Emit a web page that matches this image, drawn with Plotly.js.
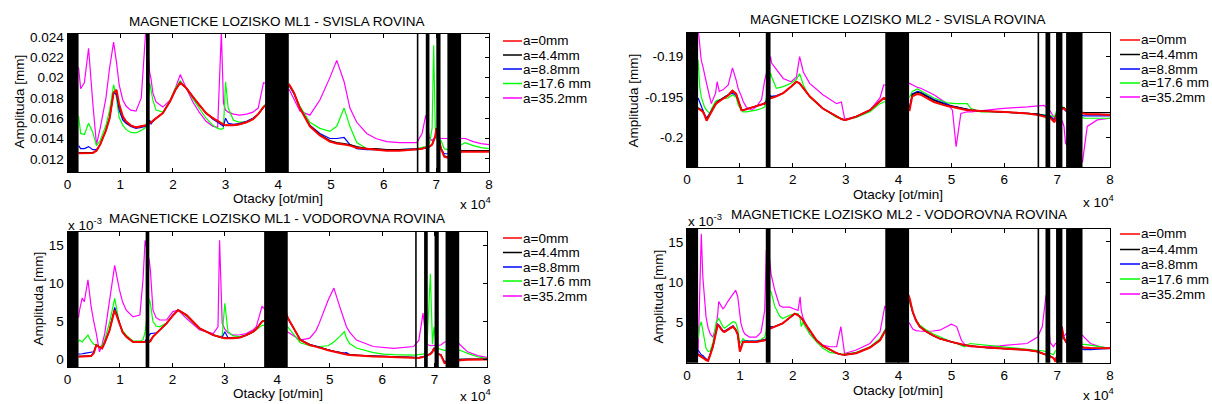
<!DOCTYPE html>
<html><head><meta charset="utf-8">
<script src="https://cdn.plot.ly/plotly-3.0.1.min.js"></script>
<style>html,body{margin:0;padding:0;background:#fff}#chart{width:1212px;height:404px}</style>
</head><body><div id="chart"></div>
<script>
// ===== DATA =====
const LEGEND_LABELS = ['a=0mm','a=4.4mm','a=8.8mm','a=17.6 mm','a=35.2mm'];
const X_TICKS = [0,1,2,3,4,5,6,7,8];
const X_TICKTEXT = ['0','1','2','3','4','5','6','7','8'];
const TITLES = ['MAGNETICKE LOZISKO ML1 - SVISLA ROVINA','MAGNETICKE LOZISKO ML1 - VODOROVNA ROVINA',
                'MAGNETICKE LOZISKO ML2 - SVISLA ROVINA','MAGNETICKE LOZISKO ML2 - VODOROVNA ROVINA'];
const X_LABEL = 'Otacky [ot/min]';
const Y_LABEL = 'Amplituda [mm]';
// excluded speed bands (x 10^4 ot/min)
const BANDS_LEFT_START  = [0, 1.49, 3.75, 6.63, 6.80, 7.00, 7.21];
const BANDS_LEFT_END    = [0.21, 1.56, 4.20, 6.66, 6.87, 7.08, 7.47];
const BANDS_RIGHT_START = [0, 1.49, 3.75, 6.63, 6.78, 6.98, 7.17];
const BANDS_RIGHT_END   = [0.21, 1.58, 4.20, 6.66, 6.87, 7.10, 7.48];

// --- ML1 svisla (mm), x in 10^4 ot/min ---
const TL_X = [0.21,0.25,0.32,0.40,0.48,0.55,0.62,0.73,0.80,0.875,0.93,0.98,1.05,1.11,1.20,1.30,1.40,1.46,1.49,
 1.56,1.585,1.62,1.68,1.81,1.95,2.05,2.14,2.25,2.38,2.5,2.63,2.76,2.85,2.92,2.96,3.0,3.05,3.15,3.27,3.4,3.52,3.62,3.72,
 4.21,4.3,4.41,4.6,4.79,4.98,5.11,5.25,5.36,5.49,5.68,5.85,6.06,6.3,6.63,
 6.73,6.8,6.87,6.92,6.95,6.98,7.0,7.09,7.15,7.21,7.48,7.55,7.7,7.85,8.0];
const TL_RED = [0.01255,0.01255,0.01255,0.01255,0.01258,0.0128,0.0134,0.0148,0.0160,0.0185,0.0188,0.0174,0.0162,0.0157,0.0153,0.0151,0.0152,0.0152,0.0153,
 0.0155,0.0156,0.0157,0.0160,0.0165,0.0177,0.0188,0.0195,0.0190,0.0181,0.0173,0.0165,0.0160,0.0157,0.0155,0.0154,0.0153,0.0153,0.0153,0.0154,0.0156,0.0159,0.0164,0.0171,
 0.0193,0.0185,0.0170,0.0152,0.0143,0.0137,0.0135,0.0134,0.0133,0.0131,0.0130,0.0129,0.0128,0.0128,0.0129,
 0.0130,0.0131,0.0132,0.0134,0.0138,0.0142,0.0150,0.0130,0.0122,0.0121,0.0127,0.0127,0.0127,0.0127,0.0127];
const TL_BLACK = [0.0126,0.0126,0.01258,0.0126,0.0126,0.0128,0.0134,0.0148,0.0160,0.0185,0.0187,0.0172,0.0161,0.0156,0.0153,0.0151,0.0152,0.0152,0.0153,
 0.0156,0.0156,0.0157,0.0160,0.0165,0.0177,0.0188,0.0195,0.0190,0.0181,0.0173,0.0165,0.0160,0.0157,0.0155,0.0154,0.0153,0.0153,0.0153,0.0154,0.0156,0.0159,0.0164,0.0171,
 0.0193,0.0185,0.0170,0.0153,0.0144,0.0138,0.0136,0.0135,0.0134,0.0132,0.0130,0.0130,0.0129,0.0129,0.0129,
 0.0130,0.0131,0.0132,0.0134,0.0138,0.0142,0.0150,0.0130,0.0123,0.0122,0.0128,0.0128,0.0128,0.0128,0.0128];
const TL_BLUE = [0.0133,0.0130,0.0130,0.0132,0.0129,0.0129,0.0134,0.0148,0.0161,0.0186,0.0183,0.0168,0.0158,0.0155,0.0152,0.0150,0.0151,0.0152,0.0152,
 0.0158,0.0154,0.0157,0.0160,0.0165,0.0177,0.0188,0.0195,0.0190,0.0181,0.0173,0.0165,0.0159,0.0156,0.0153,0.0152,0.0160,0.0155,0.0154,0.0155,0.0157,0.0160,0.0164,0.0171,
 0.0192,0.0184,0.0170,0.0153,0.0145,0.0140,0.0140,0.0141,0.0134,0.0130,0.0129,0.0129,0.0129,0.0129,0.0130,
 0.0130,0.0131,0.0132,0.0134,0.0138,0.0142,0.0150,0.0130,0.0125,0.0125,0.0128,0.0128,0.0128,0.0128,0.0128];
const TL_GREEN = [0.0162,0.0145,0.0144,0.0155,0.0146,0.0133,0.0138,0.0153,0.0168,0.0193,0.0180,0.0161,0.0153,0.0149,0.0146,0.01455,0.0148,0.0150,0.0151,
 0.0195,0.0188,0.0178,0.0168,0.0166,0.0178,0.0190,0.0197,0.0190,0.0179,0.0170,0.0160,0.0153,0.0150,0.0149,0.0150,0.0196,0.0170,0.0158,0.0156,0.0157,0.0160,0.0164,0.0172,
 0.0192,0.0184,0.0172,0.0156,0.0150,0.0147,0.0152,0.0170,0.0152,0.0136,0.0130,0.0129,0.0129,0.0129,0.0130,
 0.0131,0.0132,0.0135,0.0150,0.0232,0.0150,0.0140,0.0138,0.0130,0.0129,0.0134,0.0136,0.0133,0.0131,0.0130];
const TL_MAGENTA = [0.0210,0.0189,0.0195,0.0229,0.0175,0.0134,0.0150,0.0180,0.0210,0.0235,0.0215,0.0193,0.0178,0.0172,0.0168,0.0167,0.0180,0.0220,0.0250,
 0.0205,0.0199,0.0185,0.0176,0.0171,0.0178,0.0190,0.0203,0.0190,0.0176,0.0166,0.0157,0.0152,0.0151,0.0245,0.0175,0.0168,0.0166,0.0164,0.0163,0.0164,0.0166,0.0170,0.0195,
 0.0188,0.0178,0.0167,0.0163,0.0178,0.0200,0.0217,0.0196,0.0170,0.0156,0.0145,0.0140,0.0137,0.0136,0.0136,
 0.0145,0.0163,0.0140,0.0138,0.0140,0.0142,0.0142,0.0140,0.0140,0.0140,0.0140,0.0140,0.0137,0.0135,0.0134];

// --- ML1 vodorovna (x 10^-3 mm) ---
const BL_X = [0.21,0.23,0.28,0.32,0.39,0.45,0.50,0.55,0.61,0.66,0.71,0.80,0.90,0.99,1.05,1.12,1.25,1.38,1.44,1.48,
 1.56,1.58,1.63,1.69,1.76,1.89,2.01,2.11,2.27,2.52,2.78,2.87,2.90,2.95,3.0,3.06,3.16,3.29,3.41,3.54,3.6,3.71,
 4.17,4.2,4.44,4.62,4.74,4.8,4.97,5.08,5.19,5.28,5.32,5.38,5.51,5.83,6.03,6.22,6.6,
 6.7,6.78,6.85,6.92,6.96,6.99,7.04,7.12,7.19,7.42,7.49,7.63,7.82,8.0];
const BL_RED = [0.35,0.35,0.38,0.4,0.42,0.44,0.8,1.9,1.6,1.45,2.2,3.8,6.5,4.75,3.6,3.0,2.3,2.3,2.3,2.35,
 2.3,2.4,3.0,3.4,3.9,4.75,5.8,6.5,5.85,4.1,3.2,3.0,2.95,2.85,2.8,2.8,2.8,2.9,3.2,3.65,4.0,5.0,
 6.1,5.5,2.55,1.9,1.7,1.55,1.2,1.0,0.8,0.7,0.65,0.57,0.5,0.4,0.35,0.3,0.15,
 0.2,0.3,0.5,0.7,1.0,1.5,0.8,0.57,-0.5,-0.2,-0.1,-0.05,0.0,0.0];
const BL_BLACK = [0.4,0.4,0.42,0.45,0.48,0.5,0.85,1.9,1.6,1.45,2.2,3.8,6.6,4.8,3.6,3.0,2.3,2.3,2.3,2.35,
 2.4,2.5,3.0,3.4,3.9,4.75,5.8,6.5,5.85,4.1,3.2,3.0,2.95,2.85,2.85,2.8,2.8,2.9,3.2,3.65,4.0,5.0,
 6.1,5.5,2.6,1.95,1.75,1.6,1.25,1.05,0.85,0.75,0.7,0.62,0.55,0.45,0.4,0.35,0.2,
 0.25,0.35,0.55,0.75,1.05,1.5,0.8,0.6,-0.4,-0.1,0.0,0.05,0.05,0.05];
const BL_BLUE = [0.7,0.7,0.75,0.8,0.88,0.95,1.0,1.9,1.6,1.45,2.2,3.8,6.85,4.9,3.6,3.0,2.3,2.3,2.3,2.4,
 3.3,3.4,3.45,3.5,3.9,4.75,5.8,6.5,5.85,4.1,3.2,3.0,2.95,2.9,3.65,2.9,2.8,2.9,3.2,3.65,4.0,5.0,
 6.0,5.4,2.6,1.95,1.75,1.6,1.25,1.05,0.9,0.85,0.88,0.65,0.55,0.45,0.4,0.35,0.2,
 0.25,0.35,0.55,0.75,1.05,1.5,0.8,0.6,-0.3,0.0,0.0,0.0,0.0,0.0];
const BL_GREEN = [2.3,2.55,2.3,2.6,3.2,2.4,2.0,1.9,1.7,1.8,2.6,4.8,8.05,4.75,3.8,3.2,2.4,2.4,2.6,3.6,
 8.0,7.4,5.0,4.4,4.3,4.8,5.85,6.5,5.7,4.0,3.2,3.0,3.0,3.1,7.4,3.65,3.1,3.0,3.2,3.6,3.9,4.5,
 4.5,4.3,2.2,1.8,1.7,1.7,1.8,2.3,3.0,3.65,2.8,2.1,1.5,0.9,0.7,0.62,0.57,
 0.6,0.7,0.9,11.3,2.0,4.3,1.5,1.3,1.2,1.3,1.2,0.8,0.35,0.1];
const BL_MAGENTA = [5.5,6.5,8.1,7.6,10.5,7.0,5.0,3.4,1.0,2.0,3.4,7.8,12.4,9.2,7.6,6.5,5.6,5.85,10.5,15.7,
 13.0,11.8,6.5,5.5,5.2,5.2,6.3,6.5,5.4,3.9,3.4,4.3,15.7,4.75,4.0,3.5,3.2,3.25,3.4,3.9,4.3,7.0,
 3.8,3.6,2.55,2.8,3.8,4.75,7.8,9.4,7.0,5.0,4.3,3.6,2.55,1.7,1.55,1.45,1.7,
 2.5,6.1,2.0,1.8,1.8,1.8,1.8,1.9,2.3,2.4,1.9,1.0,0.5,0.26];

// --- ML2 svisla (mm) ---
const TR_X = [0.21,0.24,0.27,0.30,0.33,0.37,0.43,0.46,0.54,0.57,0.61,0.68,0.78,0.86,0.93,0.97,1.03,1.06,1.12,1.22,1.31,1.41,1.47,
 1.58,1.6,1.69,1.82,1.97,2.07,2.13,2.2,2.32,2.57,2.83,2.92,2.98,3.0,3.2,3.46,3.65,3.72,
 4.21,4.26,4.36,4.42,4.67,4.92,5.02,5.09,5.18,5.3,5.37,5.55,5.93,6.44,6.64,
 6.75,6.81,6.88,6.95,7.0,7.1,7.13,7.16,7.48,7.51,7.57,7.76,8.0];
const TR_RED = [-0.1964,-0.1965,-0.1966,-0.1968,-0.1972,-0.1979,-0.1972,-0.1968,-0.1959,-0.1957,-0.1955,-0.1952,-0.1948,-0.1942,-0.1946,-0.1953,-0.1966,-0.1966,-0.1965,-0.1963,-0.1961,-0.1959,-0.1958,
 -0.1951,-0.1951,-0.1949,-0.1945,-0.1937,-0.1931,-0.1933,-0.1939,-0.1949,-0.1964,-0.1974,-0.1977,-0.1978,-0.1978,-0.1974,-0.1966,-0.1955,-0.1951,
 -0.1966,-0.1949,-0.1946,-0.1947,-0.1956,-0.1961,-0.1962,-0.1963,-0.1964,-0.1966,-0.1966,-0.1967,-0.1968,-0.1970,-0.1972,
 -0.1974,-0.1975,-0.1976,-0.1981,-0.1970,-0.1964,-0.1964,-0.1966,-0.1970,-0.1970,-0.1971,-0.1971,-0.1972];
const TR_BLACK = [-0.1963,-0.1964,-0.1965,-0.1967,-0.1971,-0.1977,-0.1971,-0.1967,-0.1958,-0.1956,-0.1954,-0.1951,-0.1947,-0.1942,-0.1946,-0.1953,-0.1965,-0.1966,-0.1965,-0.1963,-0.1961,-0.1959,-0.1958,
 -0.1950,-0.1950,-0.1949,-0.1945,-0.1937,-0.1931,-0.1933,-0.1939,-0.1949,-0.1964,-0.1974,-0.1977,-0.1978,-0.1978,-0.1974,-0.1966,-0.1955,-0.1951,
 -0.1964,-0.1947,-0.1944,-0.1945,-0.1954,-0.1960,-0.1961,-0.1962,-0.1963,-0.1965,-0.1966,-0.1967,-0.1968,-0.1970,-0.1971,
 -0.1973,-0.1974,-0.1975,-0.1980,-0.1969,-0.1963,-0.1963,-0.1965,-0.1969,-0.1969,-0.1969,-0.1969,-0.1969];
const TR_BLUE = [-0.1951,-0.1956,-0.1962,-0.1966,-0.1971,-0.1976,-0.1970,-0.1966,-0.1958,-0.1956,-0.1954,-0.1951,-0.1947,-0.1945,-0.1948,-0.1955,-0.1966,-0.1966,-0.1965,-0.1963,-0.1961,-0.1959,-0.1957,
 -0.1948,-0.1949,-0.1948,-0.1945,-0.1937,-0.1931,-0.1933,-0.1939,-0.1949,-0.1964,-0.1974,-0.1977,-0.1978,-0.1978,-0.1974,-0.1966,-0.1955,-0.1952,
 -0.1962,-0.1946,-0.1943,-0.1944,-0.1953,-0.1959,-0.1961,-0.1962,-0.1963,-0.1965,-0.1966,-0.1967,-0.1968,-0.1970,-0.1971,
 -0.1972,-0.1973,-0.1974,-0.1978,-0.1968,-0.1964,-0.1964,-0.1967,-0.1973,-0.1973,-0.1973,-0.1973,-0.1973];
const TR_GREEN = [-0.1904,-0.1937,-0.1950,-0.1957,-0.1962,-0.1966,-0.1970,-0.1965,-0.1955,-0.1954,-0.1953,-0.1952,-0.1951,-0.1947,-0.1950,-0.1960,-0.1966,-0.1968,-0.1968,-0.1967,-0.1966,-0.1964,-0.1962,
 -0.1920,-0.1925,-0.1939,-0.1937,-0.1933,-0.1928,-0.1921,-0.1935,-0.1950,-0.1964,-0.1975,-0.1977,-0.1978,-0.1978,-0.1975,-0.1968,-0.1958,-0.1956,
 -0.1950,-0.1943,-0.1940,-0.1942,-0.1951,-0.1957,-0.1958,-0.1958,-0.1958,-0.1958,-0.1964,-0.1968,-0.1968,-0.1970,-0.1971,
 -0.1972,-0.1972,-0.1973,-0.1974,-0.1965,-0.1962,-0.1963,-0.1965,-0.1975,-0.1976,-0.1976,-0.1976,-0.1976];
const TR_MAGENTA = [-0.1865,-0.1890,-0.1905,-0.1912,-0.1922,-0.1933,-0.1950,-0.1958,-0.1945,-0.1931,-0.1943,-0.1941,-0.1935,-0.1914,-0.1929,-0.1940,-0.1949,-0.1955,-0.1962,-0.1966,-0.1962,-0.1953,-0.1929,
 -0.1900,-0.1908,-0.1916,-0.1927,-0.1931,-0.1925,-0.1900,-0.1919,-0.1933,-0.1947,-0.1958,-0.1956,-0.1976,-0.1977,-0.1974,-0.1966,-0.1951,-0.1935,
 -0.1933,-0.1935,-0.1938,-0.1939,-0.1947,-0.1958,-0.1966,-0.2011,-0.1970,-0.1968,-0.1968,-0.1967,-0.1964,-0.1962,-0.1961,
 -0.1960,-0.1963,-0.1968,-0.1976,-0.1970,-0.1980,-0.1986,-0.2007,-0.2030,-0.2015,-0.1986,-0.1978,-0.1976];

// --- ML2 vodorovna (x 10^-3 mm) ---
const BR_X = [0.21,0.24,0.27,0.30,0.33,0.36,0.40,0.44,0.49,0.55,0.58,0.60,0.68,0.71,0.77,0.87,0.92,0.96,1.0,1.02,1.06,1.09,1.18,1.31,1.40,1.47,1.50,
 1.55,1.59,1.66,1.75,1.81,1.94,2.04,2.1,2.14,2.16,2.19,2.32,2.45,2.57,2.7,2.83,2.91,2.98,3.2,3.46,3.65,3.74,
 4.19,4.21,4.27,4.33,4.4,4.52,4.65,4.78,5.0,5.1,5.19,5.25,5.35,5.67,5.92,6.05,6.43,6.63,
 6.72,6.79,6.87,6.93,6.97,7.04,7.09,7.12,7.17,7.21,7.48,7.51,7.63,7.82,8.0];
const BR_RED = [1.0,0.9,0.8,0.66,0.5,0.35,0.25,1.0,2.0,3.8,4.7,4.6,3.9,3.85,4.1,4.5,4.1,3.5,1.4,1.8,2.6,2.6,2.6,2.6,2.7,2.8,2.85,
 4.2,4.3,4.5,4.7,4.9,5.6,6.1,5.9,5.7,5.6,5.3,4.0,2.8,2.1,1.6,1.2,1.05,1.0,1.2,1.9,2.8,3.85,
 8.4,8.0,6.3,5.3,4.5,3.9,3.4,3.0,2.6,2.4,2.3,2.2,2.1,1.9,1.8,1.75,1.6,1.4,
 1.2,1.0,0.8,0.6,0.12,2.0,4.5,3.2,2.6,2.4,1.9,1.9,1.85,1.8,1.8];
const BR_BLACK = [1.1,0.95,0.85,0.7,0.55,0.4,0.3,1.0,2.0,3.8,4.7,4.6,3.9,3.85,4.1,4.5,4.1,3.5,1.5,1.8,2.6,2.6,2.6,2.6,2.7,2.8,2.85,
 4.2,4.3,4.5,4.7,4.9,5.6,6.1,5.9,5.7,5.6,5.3,4.0,2.8,2.1,1.6,1.2,1.05,1.0,1.2,1.9,2.8,3.85,
 8.3,7.9,6.3,5.3,4.5,3.9,3.4,3.0,2.6,2.4,2.3,2.2,2.1,1.9,1.8,1.75,1.6,1.4,
 1.2,1.0,0.8,0.6,0.2,2.0,4.4,3.2,2.6,2.4,1.85,1.85,1.8,1.8,1.8];
const BR_BLUE = [1.6,1.3,1.0,0.9,0.7,0.5,0.4,1.1,2.1,3.9,4.8,4.7,4.0,3.95,4.2,4.6,4.2,3.6,1.6,1.9,2.7,2.7,2.7,2.7,2.8,2.9,2.95,
 4.4,4.5,4.5,4.7,4.9,5.6,6.1,5.9,5.7,5.6,5.3,4.0,2.8,2.1,1.6,1.2,1.05,1.0,1.2,1.9,2.8,3.85,
 8.2,7.8,6.2,5.2,4.5,3.9,3.4,3.0,2.6,2.4,2.3,2.2,2.1,1.9,1.8,1.75,1.6,1.4,
 1.2,1.0,0.8,0.6,0.3,2.0,4.3,3.1,2.5,2.3,1.7,1.65,1.65,1.7,1.8];
const BR_GREEN = [3.0,4.5,5.1,3.8,2.8,1.8,1.4,1.5,2.5,5.0,5.3,5.5,4.5,4.3,4.6,5.1,5.0,4.2,2.4,2.6,3.0,2.8,2.7,2.7,2.9,3.2,4.0,
 9.0,8.8,7.0,5.8,5.5,5.9,6.1,6.1,5.5,4.5,5.0,3.6,2.6,1.8,1.3,1.15,1.1,1.1,1.3,2.0,3.0,4.05,
 7.4,7.4,6.2,5.3,4.7,4.1,3.6,3.2,2.6,2.4,2.2,2.0,2.4,2.2,2.0,1.9,1.7,1.6,
 1.5,1.4,1.2,1.0,1.5,1.6,4.5,3.0,2.8,2.7,2.3,2.3,2.2,2.0,1.8];
const BR_MAGENTA = [1.0,8.0,16.0,10.6,7.5,5.7,4.3,3.6,3.2,4.5,6.0,7.6,6.7,6.9,7.6,8.6,9.0,8.2,6.0,4.9,4.0,3.6,3.2,3.2,3.8,6.5,14.0,
 13.6,11.0,9.0,7.1,6.9,6.9,6.6,6.5,8.2,6.5,5.7,3.6,2.8,2.2,2.0,2.0,4.5,1.15,1.6,2.4,3.85,7.0,
 5.0,4.9,4.2,4.0,3.95,3.9,3.95,4.05,4.8,4.5,2.8,2.3,2.0,2.0,2.1,2.2,2.4,3.2,
 4.5,8.4,2.5,2.0,2.4,2.6,3.0,3.2,3.6,3.6,3.4,3.2,2.4,2.0,1.8];

const TL_YTICKS = [0.012,0.014,0.016,0.018,0.02,0.022,0.024];
const TL_YTEXT  = ['0.012','0.014','0.016','0.018','0.02','0.022','0.024'];
const BL_YTICKS = [0,5,10,15];
const BL_YTEXT  = ['0','5','10','15'];
const TR_YTICKS = [-0.2,-0.195,-0.19];
const TR_YTEXT  = ['-0.2','-0.195','-0.19'];
const BR_YTICKS = [5,10,15];
const BR_YTEXT  = ['5','10','15'];

// ===== STYLE / LAYOUT =====
const W = 1212, H = 404;
const FONT = 'Liberation Sans, Arial, Helvetica, sans-serif';
const FS = 13.5;
const COLORS = ['#ff0000','#000000','#0000ff','#00ff00','#ff00ff'];
const px = v => v / W, py = v => 1 - v / H;

const panels = [
  {x: TL_X, ys: [TL_RED,TL_BLACK,TL_BLUE,TL_GREEN,TL_MAGENTA], box:[67.5,489,34,172], yr:[0.0107,0.0243],
   yt: TL_YTICKS, ytt: TL_YTEXT, bs: BANDS_LEFT_START, be: BANDS_LEFT_END,
   title:[277,21], ylab:[18.5,102], xlab:[277.5,198], mult:{t:'x 10<sup>4</sup>', x:458, y:203},
   leg:{x0:503, x1:522, tx:523, ys:[41,55,69,83.5,98]}},
  {x: BL_X, ys: [BL_RED,BL_BLACK,BL_BLUE,BL_GREEN,BL_MAGENTA], box:[67.5,487,232,367], yr:[-1.0,16.8],
   yt: BL_YTICKS, ytt: BL_YTEXT, bs: BANDS_LEFT_START, be: BANDS_LEFT_END,
   title:[277,218], ylab:[37.5,299], xlab:[277.5,393], mult:{t:'x 10<sup>4</sup>', x:458, y:395}, mult2:{t:'x 10<sup>-3</sup>', x:66, y:224},
   leg:{x0:503, x1:522, tx:523, ys:[238,252.5,267,281,296]}},
  {x: TR_X, ys: [TR_RED,TR_BLACK,TR_BLUE,TR_GREEN,TR_MAGENTA], box:[687,1110,33,167], yr:[-0.2036,-0.1871],
   yt: TR_YTICKS, ytt: TR_YTEXT, bs: BANDS_RIGHT_START, be: BANDS_RIGHT_END,
   title:[898,19], ylab:[632.5,100], xlab:[898,194.5], mult:{t:'x 10<sup>4</sup>', x:1081, y:201},
   leg:{x0:1120, x1:1140, tx:1141, ys:[40,54.5,69,83,97]}},
  {x: BR_X, ys: [BR_RED,BR_BLACK,BR_BLUE,BR_GREEN,BR_MAGENTA], box:[687,1110,229,362.7], yr:[0.02,16.6],
   yt: BR_YTICKS, ytt: BR_YTEXT, bs: BANDS_RIGHT_START, be: BANDS_RIGHT_END,
   title:[899,214], ylab:[657.5,297], xlab:[898,390], mult:{t:'x 10<sup>4</sup>', x:1081, y:394}, mult2:{t:'x 10<sup>-3</sup>', x:686, y:220},
   leg:{x0:1120, x1:1140, tx:1141, ys:[234,249.5,264,279,294]}}
];

const traces = [], shapes = [], annotations = [];
const layout = {width: W, height: H, margin:{l:0,r:0,t:0,b:0}, paper_bgcolor:'#fff', plot_bgcolor:'#fff',
  showlegend:false, font:{family:FONT, size:FS, color:'#000'}};

const drawOrder = [4,3,2,1,0];
panels.forEach((p, i) => {
  const n = i + 1, xa = 'x' + (n>1?n:''), ya = 'y' + (n>1?n:'');
  drawOrder.forEach(k => {
    traces.push({type:'scatter', mode:'lines', x:p.x, y:p.ys[k], xaxis:xa, yaxis:ya, name:LEGEND_LABELS[k],
      line:{color:COLORS[k], width: k===0 ? 2 : 1.2}, hoverinfo:'skip'});
  });
  const common = {showgrid:false, zeroline:false, showline:true, linecolor:'#000', linewidth:1, mirror:'ticks',
    ticks:'inside', ticklen:4, tickcolor:'#000', tickfont:{family:FONT,size:FS,color:'#000'}, fixedrange:true};
  layout['xaxis'+(n>1?n:'')] = Object.assign({}, common, {domain:[px(p.box[0]), px(p.box[1])], range:[0,8],
    tickvals:X_TICKS, ticktext:X_TICKTEXT, anchor:ya});
  layout['yaxis'+(n>1?n:'')] = Object.assign({}, common, {domain:[py(p.box[3]), py(p.box[2])], range:p.yr,
    tickvals:p.yt, ticktext:p.ytt, anchor:xa});
  p.bs.forEach((s, j) => shapes.push({type:'rect', layer:'above', xref:xa, yref:ya+' domain',
    x0:s, x1:p.be[j], y0:0, y1:1, fillcolor:'#000', line:{width:0}}));
  annotations.push({text:TITLES[i], xref:'paper', yref:'paper', x:px(p.title[0]), y:py(p.title[1]),
    xanchor:'center', yanchor:'middle', showarrow:false, font:{family:FONT,size:FS}});
  annotations.push({text:Y_LABEL, xref:'paper', yref:'paper', x:px(p.ylab[0]), y:py(p.ylab[1]), textangle:-90,
    xanchor:'center', yanchor:'middle', showarrow:false, font:{family:FONT,size:FS}});
  annotations.push({text:X_LABEL, xref:'paper', yref:'paper', x:px(p.xlab[0]), y:py(p.xlab[1]),
    xanchor:'center', yanchor:'middle', showarrow:false, font:{family:FONT,size:FS}});
  [p.mult, p.mult2].filter(Boolean).forEach(m => annotations.push({text:m.t, xref:'paper', yref:'paper',
    x:px(m.x), y:py(m.y), xanchor:'left', yanchor:'middle', showarrow:false, font:{family:FONT,size:FS}}));
  LEGEND_LABELS.forEach((lab, k) => {
    const yy = p.leg.ys[k];
    shapes.push({type:'line', xref:'paper', yref:'paper', x0:px(p.leg.x0), x1:px(p.leg.x1), y0:py(yy), y1:py(yy),
      line:{color:COLORS[k], width:1.5}});
    annotations.push({text:lab, xref:'paper', yref:'paper', x:px(p.leg.tx), y:py(yy), xanchor:'left', yanchor:'middle',
      showarrow:false, font:{family:FONT,size:FS}, xshift:-2});
  });
});
layout.shapes = shapes; layout.annotations = annotations;
Plotly.newPlot('chart', traces, layout, {staticPlot:true, displayModeBar:false});
</script></body></html>
